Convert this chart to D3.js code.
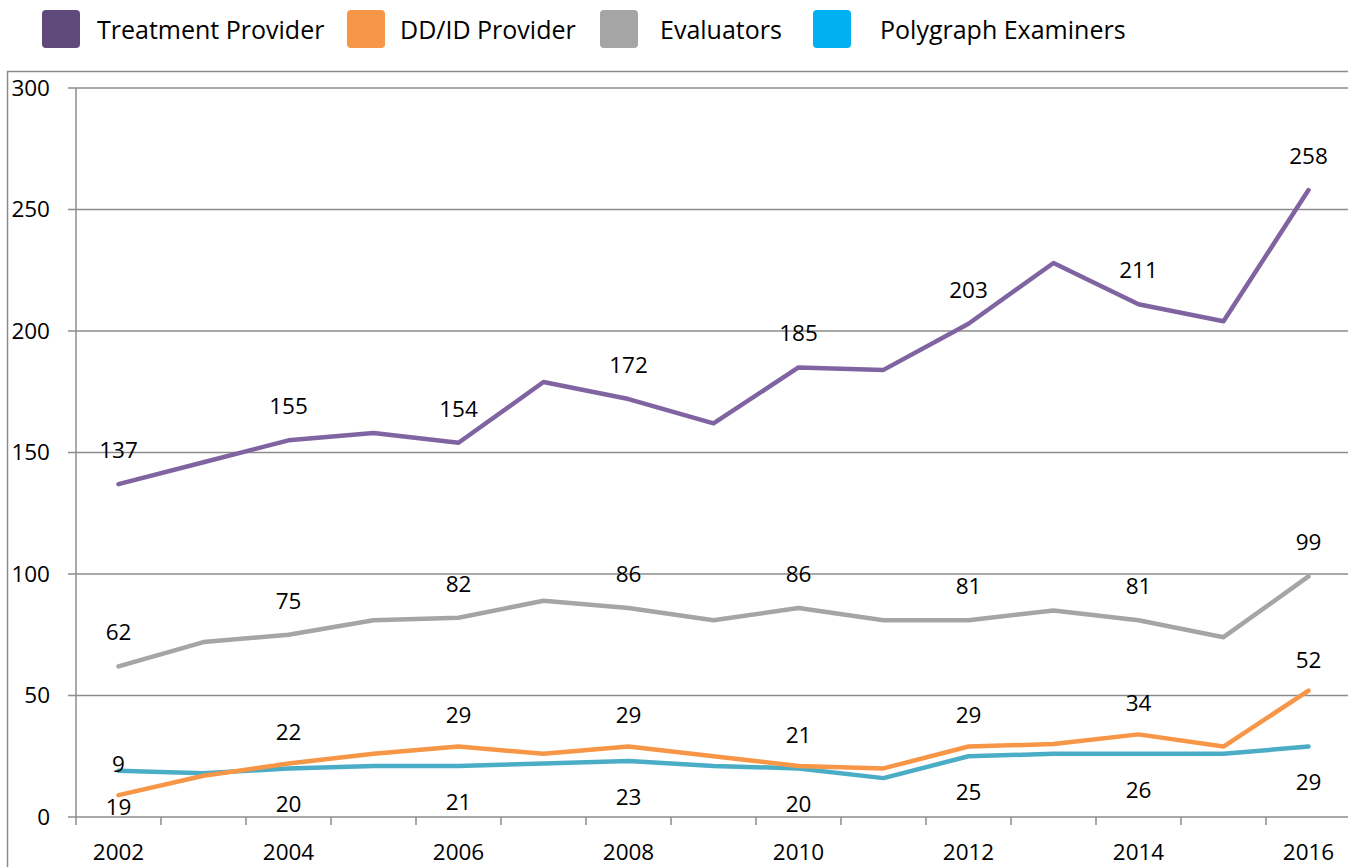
<!DOCTYPE html>
<html lang="en">
<head>
<meta charset="UTF-8">
<title>Providers by year</title>
<style>
  body { margin: 0; background: #fff; }
  text { font-family: "Open Sans", sans-serif; fill: #000; }
</style>
<script src="https://d3js.org/d3.v7.min.js"></script>
</head>
<body>
<svg id="chart"></svg>
<script>
const years = [2002, 2003, 2004, 2005, 2006, 2007, 2008, 2009, 2010, 2011, 2012, 2013, 2014, 2015, 2016];
const treatment = [137, 146, 155, 158, 154, 179, 172, 162, 185, 184, 203, 228, 211, 204, 258];
const ddid = [9, 17, 22, 26, 29, 26, 29, 25, 21, 20, 29, 30, 34, 29, 52];
const evaluators = [62, 72, 75, 81, 82, 89, 86, 81, 86, 81, 81, 85, 81, 74, 99];
const polygraph = [19, 18, 20, 21, 21, 22, 23, 21, 20, 16, 25, 26, 26, 26, 29];
const yTicks = [0, 50, 100, 150, 200, 250, 300];
const seriesNames = ["Treatment Provider", "DD/ID Provider", "Evaluators", "Polygraph Examiners"];

const width = 1348, height = 867;
const svg = d3.select("#chart").attr("width", width).attr("height", height);

const x = d3.scaleBand().domain(years).range([76, 1351]);
const y = d3.scaleLinear().domain([0, 300]).range([817, 88]);

// outer frame
svg.append("rect").attr("x", 7.5).attr("y", 71.5).attr("width", 1360).attr("height", 820)
  .attr("fill", "none").attr("stroke", "#8c8c8c").attr("stroke-width", 1.5);

// gridlines
svg.append("g").selectAll("line").data(yTicks).join("line")
  .attr("x1", 68).attr("x2", 1348)
  .attr("y1", d => y(d)).attr("y2", d => y(d))
  .attr("stroke", "#8c8c8c").attr("stroke-width", 1.5);

// y axis labels
svg.append("g").selectAll("text").data(yTicks).join("text")
  .attr("x", 50).attr("y", d => y(d)).attr("dy", "0.35em")
  .attr("text-anchor", "end").style("font-size", "22.5px").text(d => d);

// y axis line
svg.append("line").attr("x1", 76).attr("x2", 76).attr("y1", y(300)).attr("y2", y(0))
  .attr("stroke", "#8c8c8c").attr("stroke-width", 1.5);

// x ticks between categories
const bounds = years.map(d => x(d)).concat([x(years[years.length - 1]) + x.bandwidth()]);
svg.append("g").selectAll("line").data(bounds).join("line")
  .attr("x1", d => d).attr("x2", d => d).attr("y1", y(0)).attr("y2", y(0) + 8)
  .attr("stroke", "#8c8c8c").attr("stroke-width", 1.5);

// x labels every two years
svg.append("g").selectAll("text").data(years.filter(d => d % 2 === 0)).join("text")
  .attr("x", d => x(d) + x.bandwidth() / 2).attr("y", 852).attr("dy", "0.35em")
  .attr("text-anchor", "middle").style("font-size", "22.5px").text(d => d);

const series = [
  { name: seriesNames[0], values: treatment, color: "#8064a2", swatch: "#604a7b", dy: -34 },
  { name: seriesNames[1], values: ddid, color: "#f79646", swatch: "#f79646", dy: -31 },
  { name: seriesNames[2], values: evaluators, color: "#a5a5a5", swatch: "#a5a5a5", dy: -34 },
  { name: seriesNames[3], values: polygraph, color: "#4bacc6", swatch: "#00b0f0", dy: 36 }
];

const line = d3.line()
  .x((d, i) => x(years[i]) + x.bandwidth() / 2)
  .y(d => y(d));

// draw in back-to-front order like the original
[series[2], series[3], series[1], series[0]].forEach(s => {
  svg.append("path").datum(s.values)
    .attr("d", line)
    .attr("fill", "none").attr("stroke", s.color)
    .attr("stroke-width", 4.5).attr("stroke-linejoin", "round").attr("stroke-linecap", "round");
});

// data labels on even years
series.forEach(s => {
  svg.append("g").selectAll("text")
    .data(years.map((yr, i) => ({ yr, v: s.values[i] })).filter(d => d.yr % 2 === 0))
    .join("text")
    .attr("x", d => x(d.yr) + x.bandwidth() / 2)
    .attr("y", d => y(d.v) + s.dy).attr("dy", "0.35em")
    .attr("text-anchor", "middle").style("font-size", "22.5px")
    .text(d => d.v);
});

// legend
const legendX = [[42, 97], [347, 400], [600, 660], [813, 880]];
const legend = svg.append("g");
series.forEach((s, i) => {
  legend.append("rect").attr("x", legendX[i][0]).attr("y", 10).attr("width", 38).attr("height", 38)
    .attr("rx", 4).attr("fill", s.swatch);
  legend.append("text").attr("x", legendX[i][1]).attr("y", 30).attr("dy", "0.35em")
    .style("font-size", "25px").text(s.name);
});
</script>
</body>
</html>
